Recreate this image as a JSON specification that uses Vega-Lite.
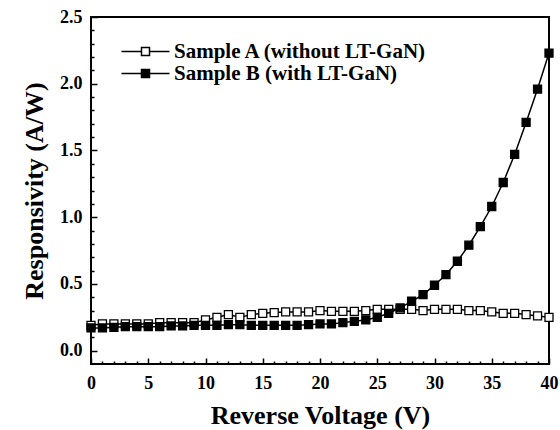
{
  "$schema": "https://vega.github.io/schema/vega-lite/v6.json",
  "autosize": "none",
  "width": 458,
  "height": 347,
  "padding": {"left": 91, "top": 17, "right": 11, "bottom": 66},
  "background": "white",
  "config": {
    "view": {"stroke": "black", "strokeWidth": 2},
    "font": "Liberation Serif",
    "axis": {
      "labelFont": "Liberation Serif",
      "labelFontWeight": "bold",
      "labelFontSize": 18,
      "labelColor": "black",
      "titleFont": "Liberation Serif",
      "titleFontWeight": "bold",
      "titleFontSize": 26,
      "titleColor": "black",
      "tickColor": "black",
      "tickWidth": 1.5,
      "grid": false,
      "domain": false
    },
    "legend": {
      "labelFont": "Liberation Serif",
      "labelFontWeight": "bold",
      "labelFontSize": 21,
      "labelColor": "black"
    }
  },
  "data": {
    "values": [
      {"V": 0, "R": 0.19, "sample": "Sample A (without LT-GaN)"},
      {"V": 1, "R": 0.2, "sample": "Sample A (without LT-GaN)"},
      {"V": 2, "R": 0.2, "sample": "Sample A (without LT-GaN)"},
      {"V": 3, "R": 0.2, "sample": "Sample A (without LT-GaN)"},
      {"V": 4, "R": 0.2, "sample": "Sample A (without LT-GaN)"},
      {"V": 5, "R": 0.2, "sample": "Sample A (without LT-GaN)"},
      {"V": 6, "R": 0.21, "sample": "Sample A (without LT-GaN)"},
      {"V": 7, "R": 0.21, "sample": "Sample A (without LT-GaN)"},
      {"V": 8, "R": 0.21, "sample": "Sample A (without LT-GaN)"},
      {"V": 9, "R": 0.21, "sample": "Sample A (without LT-GaN)"},
      {"V": 10, "R": 0.23, "sample": "Sample A (without LT-GaN)"},
      {"V": 11, "R": 0.25, "sample": "Sample A (without LT-GaN)"},
      {"V": 12, "R": 0.27, "sample": "Sample A (without LT-GaN)"},
      {"V": 13, "R": 0.25, "sample": "Sample A (without LT-GaN)"},
      {"V": 14, "R": 0.27, "sample": "Sample A (without LT-GaN)"},
      {"V": 15, "R": 0.28, "sample": "Sample A (without LT-GaN)"},
      {"V": 16, "R": 0.285, "sample": "Sample A (without LT-GaN)"},
      {"V": 17, "R": 0.29, "sample": "Sample A (without LT-GaN)"},
      {"V": 18, "R": 0.29, "sample": "Sample A (without LT-GaN)"},
      {"V": 19, "R": 0.29, "sample": "Sample A (without LT-GaN)"},
      {"V": 20, "R": 0.3, "sample": "Sample A (without LT-GaN)"},
      {"V": 21, "R": 0.295, "sample": "Sample A (without LT-GaN)"},
      {"V": 22, "R": 0.295, "sample": "Sample A (without LT-GaN)"},
      {"V": 23, "R": 0.295, "sample": "Sample A (without LT-GaN)"},
      {"V": 24, "R": 0.3, "sample": "Sample A (without LT-GaN)"},
      {"V": 25, "R": 0.31, "sample": "Sample A (without LT-GaN)"},
      {"V": 26, "R": 0.31, "sample": "Sample A (without LT-GaN)"},
      {"V": 27, "R": 0.31, "sample": "Sample A (without LT-GaN)"},
      {"V": 28, "R": 0.31, "sample": "Sample A (without LT-GaN)"},
      {"V": 29, "R": 0.3, "sample": "Sample A (without LT-GaN)"},
      {"V": 30, "R": 0.31, "sample": "Sample A (without LT-GaN)"},
      {"V": 31, "R": 0.31, "sample": "Sample A (without LT-GaN)"},
      {"V": 32, "R": 0.31, "sample": "Sample A (without LT-GaN)"},
      {"V": 33, "R": 0.3, "sample": "Sample A (without LT-GaN)"},
      {"V": 34, "R": 0.3, "sample": "Sample A (without LT-GaN)"},
      {"V": 35, "R": 0.29, "sample": "Sample A (without LT-GaN)"},
      {"V": 36, "R": 0.28, "sample": "Sample A (without LT-GaN)"},
      {"V": 37, "R": 0.28, "sample": "Sample A (without LT-GaN)"},
      {"V": 38, "R": 0.27, "sample": "Sample A (without LT-GaN)"},
      {"V": 39, "R": 0.26, "sample": "Sample A (without LT-GaN)"},
      {"V": 40, "R": 0.25, "sample": "Sample A (without LT-GaN)"},
      {"V": 0, "R": 0.17, "sample": "Sample B (with LT-GaN)"},
      {"V": 1, "R": 0.17, "sample": "Sample B (with LT-GaN)"},
      {"V": 2, "R": 0.175, "sample": "Sample B (with LT-GaN)"},
      {"V": 3, "R": 0.18, "sample": "Sample B (with LT-GaN)"},
      {"V": 4, "R": 0.18, "sample": "Sample B (with LT-GaN)"},
      {"V": 5, "R": 0.18, "sample": "Sample B (with LT-GaN)"},
      {"V": 6, "R": 0.18, "sample": "Sample B (with LT-GaN)"},
      {"V": 7, "R": 0.185, "sample": "Sample B (with LT-GaN)"},
      {"V": 8, "R": 0.185, "sample": "Sample B (with LT-GaN)"},
      {"V": 9, "R": 0.19, "sample": "Sample B (with LT-GaN)"},
      {"V": 10, "R": 0.19, "sample": "Sample B (with LT-GaN)"},
      {"V": 11, "R": 0.19, "sample": "Sample B (with LT-GaN)"},
      {"V": 12, "R": 0.195, "sample": "Sample B (with LT-GaN)"},
      {"V": 13, "R": 0.195, "sample": "Sample B (with LT-GaN)"},
      {"V": 14, "R": 0.19, "sample": "Sample B (with LT-GaN)"},
      {"V": 15, "R": 0.19, "sample": "Sample B (with LT-GaN)"},
      {"V": 16, "R": 0.19, "sample": "Sample B (with LT-GaN)"},
      {"V": 17, "R": 0.19, "sample": "Sample B (with LT-GaN)"},
      {"V": 18, "R": 0.19, "sample": "Sample B (with LT-GaN)"},
      {"V": 19, "R": 0.195, "sample": "Sample B (with LT-GaN)"},
      {"V": 20, "R": 0.2, "sample": "Sample B (with LT-GaN)"},
      {"V": 21, "R": 0.2, "sample": "Sample B (with LT-GaN)"},
      {"V": 22, "R": 0.21, "sample": "Sample B (with LT-GaN)"},
      {"V": 23, "R": 0.22, "sample": "Sample B (with LT-GaN)"},
      {"V": 24, "R": 0.23, "sample": "Sample B (with LT-GaN)"},
      {"V": 25, "R": 0.25, "sample": "Sample B (with LT-GaN)"},
      {"V": 26, "R": 0.28, "sample": "Sample B (with LT-GaN)"},
      {"V": 27, "R": 0.32, "sample": "Sample B (with LT-GaN)"},
      {"V": 28, "R": 0.37, "sample": "Sample B (with LT-GaN)"},
      {"V": 29, "R": 0.42, "sample": "Sample B (with LT-GaN)"},
      {"V": 30, "R": 0.49, "sample": "Sample B (with LT-GaN)"},
      {"V": 31, "R": 0.57, "sample": "Sample B (with LT-GaN)"},
      {"V": 32, "R": 0.67, "sample": "Sample B (with LT-GaN)"},
      {"V": 33, "R": 0.79, "sample": "Sample B (with LT-GaN)"},
      {"V": 34, "R": 0.93, "sample": "Sample B (with LT-GaN)"},
      {"V": 35, "R": 1.08, "sample": "Sample B (with LT-GaN)"},
      {"V": 36, "R": 1.26, "sample": "Sample B (with LT-GaN)"},
      {"V": 37, "R": 1.47, "sample": "Sample B (with LT-GaN)"},
      {"V": 38, "R": 1.71, "sample": "Sample B (with LT-GaN)"},
      {"V": 39, "R": 1.96, "sample": "Sample B (with LT-GaN)"},
      {"V": 40, "R": 2.23, "sample": "Sample B (with LT-GaN)"}
    ]
  },
  "layer": [
    {
      "mark": {"type": "line", "color": "black", "strokeWidth": 1.5},
      "encoding": {
        "x": {
          "field": "V", "type": "quantitative",
          "scale": {"domain": [0, 40], "nice": false, "zero": false},
          "axis": {
            "orient": "bottom",
            "values": [0, 5, 10, 15, 20, 25, 30, 35, 40],
            "tickSize": -6,
            "labelPadding": 16,
            "labelFlush": false,
            "title": "Reverse Voltage (V)",
            "titlePadding": 10
          }
        },
        "y": {
          "field": "R", "type": "quantitative",
          "scale": {"domain": [-0.1, 2.5], "nice": false, "zero": false},
          "axis": {
            "orient": "left",
            "values": [0, 0.5, 1, 1.5, 2, 2.5],
            "format": ".1f",
            "tickSize": -6,
            "labelPadding": 15,
            "labelFlush": false,
            "title": "Responsivity (A/W)",
            "titlePadding": 12
          }
        },
        "detail": {"field": "sample", "type": "nominal"}
      }
    },
    {
      "mark": {"type": "point", "shape": "square", "size": 64, "filled": true, "stroke": "black", "strokeWidth": 1.3, "opacity": 1},
      "encoding": {
        "x": {
          "field": "V", "type": "quantitative",
          "axis": {
            "orient": "bottom",
            "values": [1,2,3,4,6,7,8,9,11,12,13,14,16,17,18,19,21,22,23,24,26,27,28,29,31,32,33,34,36,37,38,39],
            "tickSize": -3,
            "labels": false,
            "title": null
          }
        },
        "y": {
          "field": "R", "type": "quantitative",
          "axis": {
            "orient": "left",
            "values": [0.1,0.2,0.3,0.4,0.6,0.7,0.8,0.9,1.1,1.2,1.3,1.4,1.6,1.7,1.8,1.9,2.1,2.2,2.3,2.4],
            "tickSize": -3,
            "labels": false,
            "title": null
          }
        },
        "fill": {
          "field": "sample", "type": "nominal",
          "scale": {"range": ["white", "black"]},
          "legend": {
            "title": null,
            "orient": "none",
            "legendX": 44,
            "legendY": 24,
            "padding": 0,
            "symbolType": "M-6,0H-1M1,0H6M-1,-1H1V1H-1Z",
            "symbolSize": 64,
            "symbolStrokeColor": "black",
            "symbolStrokeWidth": 1.5,
            "symbolOffset": 0,
            "labelOffset": 18,
            "rowPadding": 0,
            "labelLimit": 400
          }
        }
      }
    }
  ],
  "resolve": {"axis": {"x": "independent", "y": "independent"}}
}
